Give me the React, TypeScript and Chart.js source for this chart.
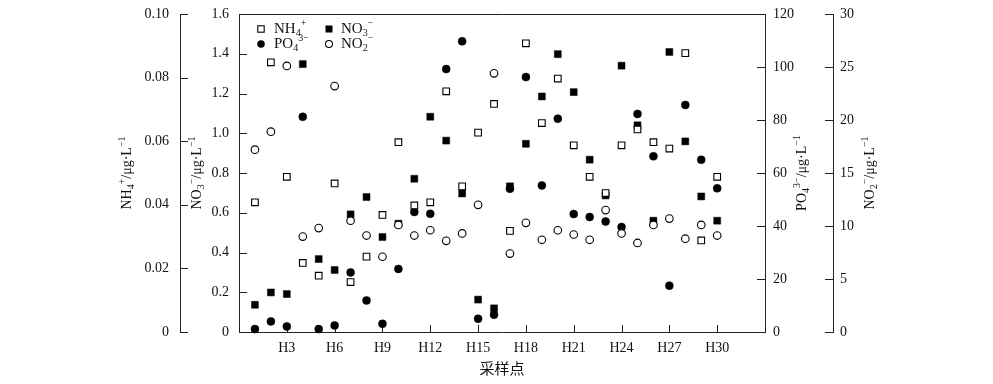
import React, { useEffect, useRef } from 'react';
import { Chart, registerables } from 'chart.js';

Chart.register(...registerables);

// ---------- data ----------
const sites = [
  'H1', 'H2', 'H3', 'H4', 'H5', 'H6', 'H7', 'H8', 'H9', 'H10',
  'H11', 'H12', 'H13', 'H14', 'H15', 'H16', 'H17', 'H18', 'H19', 'H20',
  'H21', 'H22', 'H23', 'H24', 'H25', 'H26', 'H27', 'H28', 'H29', 'H30',
];
const xTickValues = [3, 6, 9, 12, 15, 18, 21, 24, 27, 30];

// NH4+ (µg·L-1), left outer axis 0-0.10
const nh4 = [
  0.0408, 0.0848, 0.0488, 0.0217, 0.0177, 0.0467, 0.0157, 0.0237, 0.0368, 0.0597,
  0.0398, 0.0408, 0.0757, 0.0458, 0.0627, 0.0717, 0.0318, 0.0908, 0.0657, 0.0797,
  0.0587, 0.0488, 0.0437, 0.0587, 0.0637, 0.0597, 0.0577, 0.0877, 0.0288, 0.0488,
];
// NO3- (µg·L-1), left inner axis 0-1.6
const no3 = [
  0.137, 0.199, 0.191, 1.348, 0.367, 0.312, 0.592, 0.679, 0.478, 0.545,
  0.771, 1.083, 0.963, 0.697, 0.163, 0.119, 0.733, 0.947, 1.185, 1.398,
  1.207, 0.867, 0.687, 1.340, 1.040, 0.560, 1.409, 0.959, 0.682, 0.560,
];
// PO4 3- (µg·L-1), right inner axis 0-120
const po4 = [
  1.1, 4.0, 2.1, 81.2, 1.1, 2.5, 22.5, 11.9, 3.1, 23.8,
  45.3, 44.6, 99.2, 109.7, 5.0, 6.5, 54.1, 96.2, 55.3, 80.5,
  44.5, 43.4, 41.7, 39.6, 82.3, 66.3, 17.5, 85.7, 65.0, 54.2,
];
// NO2- (µg·L-1), right outer axis 0-30
const no2 = [
  17.2, 18.9, 25.1, 9.0, 9.8, 23.2, 10.5, 9.1, 7.1, 10.1,
  9.1, 9.6, 8.6, 9.3, 12.0, 24.4, 7.4, 10.3, 8.7, 9.6,
  9.2, 8.7, 11.5, 9.3, 8.4, 10.1, 10.7, 8.8, 10.1, 9.1,
];

// ---------- style ----------
const SERIF = '"Liberation Serif", "Times New Roman", "DejaVu Serif", serif';
const CJK = '"Noto Sans CJK SC", "Noto Sans", sans-serif';
const INK = '#111';
const AXIS = '#222';
const TICK = 8;

type Part = { t: string; k?: 'sub' | 'sup' };

const titleNH4: Part[] = [{ t: 'NH' }, { t: '4', k: 'sub' }, { t: '+', k: 'sup' }, { t: '/μg·L' }, { t: '−1', k: 'sup' }];
const titleNO3: Part[] = [{ t: 'NO' }, { t: '3', k: 'sub' }, { t: '−', k: 'sup' }, { t: '/μg·L' }, { t: '−1', k: 'sup' }];
const titlePO4: Part[] = [{ t: 'PO' }, { t: '4', k: 'sub' }, { t: '3−', k: 'sup' }, { t: '/μg·L' }, { t: '−1', k: 'sup' }];
const titleNO2: Part[] = [{ t: 'NO' }, { t: '2', k: 'sub' }, { t: '−', k: 'sup' }, { t: '/μg·L' }, { t: '−1', k: 'sup' }];

const legNH4: Part[] = [{ t: 'NH' }, { t: '4', k: 'sub' }, { t: '+', k: 'sup' }];
const legNO3: Part[] = [{ t: 'NO' }, { t: '3', k: 'sub' }, { t: '−', k: 'sup' }];
const legPO4: Part[] = [{ t: 'PO' }, { t: '4', k: 'sub' }, { t: '3−', k: 'sup' }];
const legNO2: Part[] = [{ t: 'NO' }, { t: '2', k: 'sub' }, { t: '−', k: 'sup' }];

function partFont(p: Part, size: number) {
  const s = p.k ? Math.round(size * 0.68) : size;
  return `${s}px ${SERIF}`;
}

function drawRich(ctx: CanvasRenderingContext2D, parts: Part[], x: number, y: number, size: number, align: 'left' | 'center') {
  const widths = parts.map((p) => {
    ctx.font = partFont(p, size);
    return ctx.measureText(p.t).width;
  });
  const total = widths.reduce((a, b) => a + b, 0);
  let cx = align === 'center' ? x - total / 2 : x;
  ctx.textBaseline = 'middle';
  ctx.textAlign = 'left';
  parts.forEach((p, i) => {
    ctx.font = partFont(p, size);
    const dy = p.k === 'sub' ? size * 0.3 : p.k === 'sup' ? -size * 0.36 : 0;
    ctx.fillText(p.t, cx, y + dy);
    cx += widths[i];
  });
}

function drawRotatedTitle(ctx: CanvasRenderingContext2D, parts: Part[], x: number, y: number, size: number) {
  ctx.save();
  ctx.translate(x, y);
  ctx.rotate(-Math.PI / 2);
  drawRich(ctx, parts, 0, 0, size, 'center');
  ctx.restore();
}

const decorPlugin = {
  id: 'decor',
  beforeDatasetsDraw(chart: any) {
    const ctx: CanvasRenderingContext2D = chart.ctx;
    const area = chart.chartArea;
    ctx.save();
    ctx.strokeStyle = AXIS;
    ctx.lineWidth = 1;
    ctx.beginPath();
    // top frame line
    const ty = Math.round(area.top) + 0.5;
    ctx.moveTo(Math.round(area.left), ty);
    ctx.lineTo(Math.round(area.right) + 1, ty);
    const specs: [string, 'right' | 'left', number][] = [
      ['yNH4', 'right', 1],
      ['yNO3', 'right', 1],
      ['yPO4', 'left', -1],
      ['yNO2', 'left', -1],
    ];
    specs.forEach(([id, side, dir]) => {
      const s = chart.scales[id];
      const ax = Math.round(side === 'right' ? s.right : s.left);
      s.ticks.forEach((t: any) => {
        const py = Math.round(s.getPixelForValue(t.value)) + 0.5;
        ctx.moveTo(ax, py);
        ctx.lineTo(ax + dir * TICK, py);
      });
    });
    const xs = chart.scales.x;
    xs.ticks.forEach((t: any) => {
      const px = Math.round(xs.getPixelForValue(t.value)) + 0.5;
      ctx.moveTo(px, Math.round(xs.top));
      ctx.lineTo(px, Math.round(xs.top) - 7);
    });
    ctx.stroke();
    ctx.restore();
  },
  afterDraw(chart: any) {
    const ctx: CanvasRenderingContext2D = chart.ctx;
    const area = chart.chartArea;
    const cy = (area.top + area.bottom) / 2;
    ctx.save();
    ctx.fillStyle = INK;
    const sNH4 = chart.scales.yNH4;
    const sNO3 = chart.scales.yNO3;
    const sPO4 = chart.scales.yPO4;
    const sNO2 = chart.scales.yNO2;
    drawRotatedTitle(ctx, titleNH4, sNH4.right - 53, cy, 14);
    drawRotatedTitle(ctx, titleNO3, sNO3.right - 42, cy, 14);
    drawRotatedTitle(ctx, titlePO4, sPO4.left + 37, cy, 14);
    drawRotatedTitle(ctx, titleNO2, sNO2.left + 37, cy, 14);

    // legend
    const l = area.left;
    const t = area.top;
    const rows = [t + 15, t + 30];
    const c1m = l + 22, c1t = l + 35, c2m = l + 90, c2t = l + 102;
    ctx.lineWidth = 1.1;
    ctx.strokeStyle = '#000';
    // open square
    ctx.fillStyle = '#fff';
    ctx.fillRect(c1m - 3.2, rows[0] - 3.2, 6.4, 6.4);
    ctx.strokeRect(c1m - 3.2, rows[0] - 3.2, 6.4, 6.4);
    // filled square
    ctx.fillStyle = '#000';
    ctx.fillRect(c2m - 3.5, rows[0] - 3.5, 7, 7);
    // filled circle
    ctx.beginPath();
    ctx.arc(c1m, rows[1], 3.8, 0, Math.PI * 2);
    ctx.fill();
    // open circle
    ctx.beginPath();
    ctx.arc(c2m, rows[1], 3.5, 0, Math.PI * 2);
    ctx.fillStyle = '#fff';
    ctx.fill();
    ctx.stroke();
    ctx.fillStyle = INK;
    drawRich(ctx, legNH4, c1t, rows[0], 15, 'left');
    drawRich(ctx, legNO3, c2t, rows[0], 15, 'left');
    drawRich(ctx, legPO4, c1t, rows[1], 15, 'left');
    drawRich(ctx, legNO2, c2t, rows[1], 15, 'left');
    ctx.restore();
  },
};

function fmt(decimals: number) {
  return (v: any) => {
    const n = Number(v);
    if (Math.abs(n) < 1e-9) return '0';
    return n.toFixed(decimals);
  };
}

function yAxis(position: 'left' | 'right', weight: number, width: number, min: number, max: number, step: number, dec: number, pad: number) {
  return {
    type: 'linear' as const,
    position,
    weight,
    min,
    max,
    afterFit: (s: any) => {
      s.width = width;
      s.paddingTop = 0;
      s.paddingBottom = 0;
    },
    grid: { display: false, drawTicks: false, drawOnChartArea: false },
    border: { display: true, color: AXIS, width: 1 },
    ticks: {
      stepSize: step,
      padding: pad,
      color: INK,
      font: { family: SERIF, size: 14 },
      callback: fmt(dec),
    },
    title: { display: false },
  };
}

export default function App() {
  const ref = useRef<HTMLCanvasElement | null>(null);

  useEffect(() => {
    if (!ref.current) return;
    const pts = (arr: number[]) => arr.map((v, i) => ({ x: i + 1, y: v }));
    const chart = new Chart(ref.current, {
      type: 'scatter',
      data: {
        datasets: [
          {
            label: 'NO2-',
            data: pts(no2),
            yAxisID: 'yNO2',
            order: 1,
            pointStyle: 'circle',
            pointRadius: 3.8,
            backgroundColor: '#fff',
            borderColor: '#000',
            borderWidth: 1.1,
            clip: false,
          },
          {
            label: 'NH4+',
            data: pts(nh4),
            yAxisID: 'yNH4',
            order: 2,
            pointStyle: 'rect',
            pointRadius: 4.7,
            backgroundColor: '#fff',
            borderColor: '#000',
            borderWidth: 1.1,
            clip: false,
          },
          {
            label: 'PO4 3-',
            data: pts(po4),
            yAxisID: 'yPO4',
            order: 3,
            pointStyle: 'circle',
            pointRadius: 4,
            backgroundColor: '#000',
            borderColor: '#000',
            borderWidth: 0.5,
            clip: false,
          },
          {
            label: 'NO3-',
            data: pts(no3),
            yAxisID: 'yNO3',
            order: 4,
            pointStyle: 'rect',
            pointRadius: 4.9,
            backgroundColor: '#000',
            borderColor: '#000',
            borderWidth: 0.5,
            clip: false,
          },
        ] as any,
      },
      options: {
        responsive: false,
        animation: false,
        devicePixelRatio: 1,
        layout: { padding: { left: 100, right: 100, top: 14, bottom: 7 } },
        plugins: {
          legend: { display: false },
          tooltip: { enabled: false },
        },
        scales: {
          x: {
            type: 'linear',
            position: 'bottom',
            min: 0,
            max: 33,
            afterBuildTicks: (s: any) => {
              s.ticks = xTickValues.map((v) => ({ value: v }));
            },
            afterFit: (s: any) => {
              s.height = 45;
              s.paddingLeft = 0;
              s.paddingRight = 0;
            },
            grid: { display: false, drawTicks: false, drawOnChartArea: false },
            border: { display: true, color: AXIS, width: 1 },
            ticks: {
              padding: 8,
              color: INK,
              font: { family: SERIF, size: 14 },
              autoSkip: false,
              maxRotation: 0,
              callback: (v: any) => sites[Number(v) - 1],
            },
            title: {
              display: true,
              text: '采样点',
              color: INK,
              font: { family: CJK, size: 15 },
              padding: 0,
            },
          },
          yNH4: yAxis('left', 2, 80, 0, 0.1, 0.02, 2, 11),
          yNO3: yAxis('left', 1, 59, 0, 1.6, 0.2, 1, 10),
          yPO4: yAxis('right', 1, 68, 0, 120, 20, 0, 8),
          yNO2: yAxis('right', 2, 60, 0, 30, 5, 0, 7),
        } as any,
      },
      plugins: [decorPlugin],
    });
    return () => chart.destroy();
  }, []);

  return (
    <div style={{ position: 'absolute', left: 0, top: 0, width: 993, height: 384, background: '#fff' }}>
      <canvas ref={ref} width={993} height={384} style={{ display: 'block' }} />
    </div>
  );
}
